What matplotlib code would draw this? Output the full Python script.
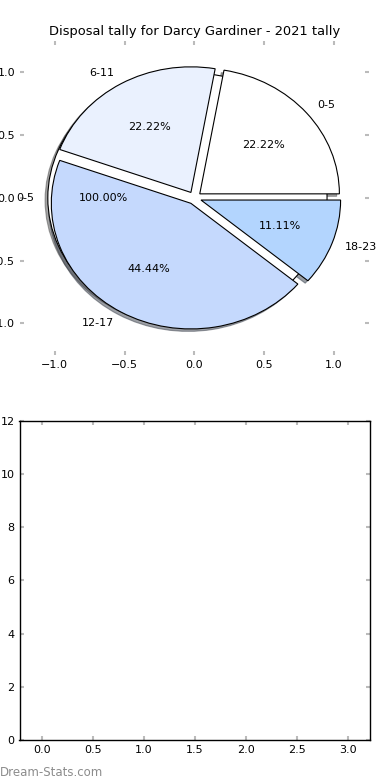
import numpy as np
import matplotlib
matplotlib.use("Agg")
import matplotlib.pyplot as plt

# disposal tally by quarter minute bucket
labels = ['0-5', '6-11', '12-17', '18-23']
tally = [2, 2, 4, 1]
colors = ['#ffffff', '#eaf1fe', '#c5d9fd', '#b3d5fe']

# leftover single-slice pie drawn underneath
full_label = ['0-5']
full_tally = [1]

# empty bar panel
bar_x = [0, 1, 2, 3]
bar_vals = [0, 0, 0, 0]

plt.rcParams['font.family'] = 'DejaVu Sans'

fig = plt.figure(figsize=(3.9, 7.8), dpi=100)

ax1 = fig.add_axes([0.051, 0.545, 0.895, 0.4026])
wp = {'edgecolor': 'black', 'linewidth': 0.8}
shad = {'ox': -0.014, 'oy': -0.014}
ax1.pie(full_tally, labels=full_label, colors=colors, explode=[0.05],
        autopct='%.2f%%', shadow=shad, wedgeprops=wp,
        textprops={'fontsize': 8}, frame=True)
ax1.pie(tally, labels=labels, colors=colors, explode=[0.05] * 4,
        autopct='%.2f%%', shadow=shad, wedgeprops=wp,
        textprops={'fontsize': 8}, frame=True)
ax1.set_aspect('auto')
ax1.set_frame_on(False)
ax1.set_xlim(-1.25, 1.25)
ax1.set_ylim(-1.25, 1.25)
ax1.set_xticks(np.arange(-1.0, 1.01, 0.5))
ax1.set_yticks(np.arange(-1.0, 1.01, 0.5))
ax1.set_title('Disposal tally for Darcy Gardiner - 2021 tally', fontsize=9.4, pad=4)

ax2 = fig.add_axes([0.05, 0.0513, 0.899, 0.409])
ax2.bar(bar_x, bar_vals, width=0.45, linewidth=0)
ax2.set_xlim(-0.22, 3.22)
ax2.set_ylim(0, 12)
ax2.set_yticks(range(0, 13, 2))
ax2.set_xticks(np.arange(0, 3.01, 0.5))
for s in ax2.spines.values():
    s.set_color('black')
    s.set_linewidth(1)

for ax in (ax1, ax2):
    ax.tick_params(direction='in', color='#bbbbbb', length=3, width=1.5,
                   labelsize=8, top=True, right=True)

fig.text(0.0, 0.005, 'Dream-Stats.com', color='#8c8c8c', fontsize=8.5)

plt.savefig('out.png', dpi=100)
